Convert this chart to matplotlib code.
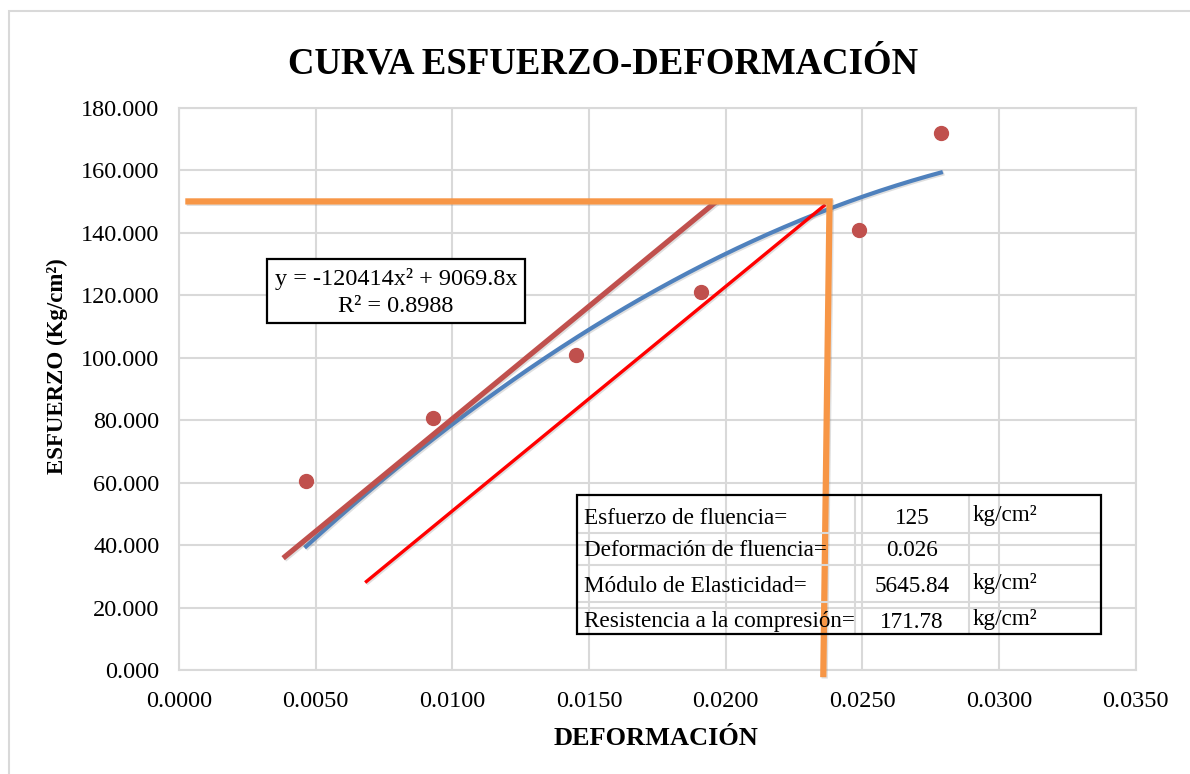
import numpy as np
import matplotlib.pyplot as plt
import matplotlib.patheffects as pe
from matplotlib.patches import Rectangle
from matplotlib.ticker import FormatStrFormatter, MultipleLocator

# datos del ensayo
deformacion = [0.00465, 0.0093, 0.01452, 0.0191, 0.02488, 0.02787]
esfuerzo = [60.4, 80.6, 100.7, 120.9, 141.0, 171.78]

# linea de tendencia (coeficientes)
coef_a, coef_b = -120414, 9069.8
ecuacion = "y = -120414x\u00b2 + 9069.8x"
r2_texto = "R\u00b2 = 0.8988"

# rectas auxiliares
recta_elastica_x = [0.00381, 0.01966]
recta_elastica_y = [35.8, 150.0]
recta_offset_x = [0.00681, 0.02365]
recta_offset_y = [28.0, 149.0]
fluencia_x = [0.00023, 0.0238, 0.02357]
fluencia_y = [150.0, 150.0, -2.3]

# tabla de resultados
tabla_etiquetas = ["Esfuerzo de fluencia=", "Deformación de fluencia=",
                   "Módulo de Elasticidad=", "Resistencia a la compresión="]
tabla_valores = ["125", "0.026", "5645.84", "171.78"]
tabla_unidades = ["kg/cm\u00b2", "", "kg/cm\u00b2", "kg/cm\u00b2"]

W, H = 1190, 774
serif = "Liberation Serif"
gris = "#d9d9d9"

def px(x, y):
    return x / W, 1 - y / H

fig = plt.figure(figsize=(W / 100, H / 100), dpi=100)
ax = fig.add_axes([179 / W, 1 - 670 / H, (1135.7 - 179) / W, (670 - 107.7) / H])

sombra = [pe.SimpleLineShadow(offset=(1, -1), shadow_color="gray", alpha=0.25), pe.Normal()]

# curva de tendencia
xt = np.linspace(min(deformacion), max(deformacion), 200)
yt = coef_a * xt**2 + coef_b * xt
ax.plot(xt, yt, color="#4F81BD", lw=3, zorder=3, path_effects=sombra)

ax.plot(recta_elastica_x, recta_elastica_y, color="#C0504D", lw=3.8, zorder=4,
        solid_capstyle="butt", path_effects=sombra)
ax.plot(recta_offset_x, recta_offset_y, color="#FF0000", lw=2.4, zorder=4,
        solid_capstyle="butt", path_effects=sombra)

ax.plot(deformacion, esfuerzo, "o", color="#C0504D", ms=10, zorder=5)

ax.plot(fluencia_x, fluencia_y, color="#F79646", lw=4.5, zorder=6, clip_on=False,
        solid_capstyle="butt", solid_joinstyle="miter", path_effects=sombra)

ax.set_xlim(0, 0.035)
ax.set_ylim(0, 180)
ax.xaxis.set_major_locator(MultipleLocator(0.005))
ax.yaxis.set_major_locator(MultipleLocator(20))
ax.xaxis.set_major_formatter(FormatStrFormatter("%.4f"))
ax.yaxis.set_major_formatter(FormatStrFormatter("%.3f"))
ax.grid(True, color=gris, lw=1.5)
ax.set_axisbelow(True)
for s in ax.spines.values():
    s.set_color(gris)
    s.set_linewidth(1.5)
ax.tick_params(length=0, labelsize=17.5)
ax.tick_params(axis="y", pad=14)
ax.tick_params(axis="x", pad=15)
for lab in ax.get_xticklabels() + ax.get_yticklabels():
    lab.set_family(serif)

# titulo y ejes
fig.text(*px(603, 73), "CURVA ESFUERZO-DEFORMACIÓN", ha="center", va="baseline",
         fontsize=26.5, fontweight="bold", family=serif)
fig.text(*px(656, 745), "DEFORMACIÓN", ha="center", va="baseline",
         fontsize=19, fontweight="bold", family=serif)
fig.text(*px(57, 366), "ESFUERZO (Kg/cm\u00b2)", ha="center", va="center", rotation=90,
         fontsize=16.5, fontweight="bold", family=serif)

# recuadro de la ecuacion
x0, y0 = px(266.7, 323)
x1, y1 = px(525, 259)
fig.add_artist(Rectangle((x0, y0), x1 - x0, y1 - y0, transform=fig.transFigure,
                         facecolor="white", edgecolor="black", lw=1.6, zorder=7))
fig.text(*px(396, 279), ecuacion, ha="center", va="center", fontsize=17.5, family=serif, zorder=8)
fig.text(*px(396, 307), r2_texto, ha="center", va="center", fontsize=17.5, family=serif, zorder=8)

# tabla
cols = [577, 855, 969, 1101]
filas = [495, 533, 565, 602, 634]
for yy in filas[1:-1]:
    fig.add_artist(plt.Line2D([px(cols[0], 0)[0], px(cols[-1], 0)[0]], [px(0, yy)[1]] * 2,
                              transform=fig.transFigure, color=gris, lw=1.5, zorder=2))
for xx in cols[1:-1]:
    fig.add_artist(plt.Line2D([px(xx, 0)[0]] * 2, [px(0, filas[0])[1], px(0, filas[-1])[1]],
                              transform=fig.transFigure, color=gris, lw=1.5, zorder=2))
tx0, ty0 = px(cols[0], filas[-1])
tx1, ty1 = px(cols[-1], filas[0])
fig.add_artist(Rectangle((tx0, ty0), tx1 - tx0, ty1 - ty0, transform=fig.transFigure,
                         facecolor="none", edgecolor="black", lw=1.6, zorder=3))
filas_y = [518, 550, 586, 622]
for et, va_, un, yy in zip(tabla_etiquetas, tabla_valores, tabla_unidades, filas_y):
    fig.text(*px(584, yy), et, ha="left", va="center", fontsize=16.7, family=serif, zorder=4)
    fig.text(*px(912, yy), va_, ha="center", va="center", fontsize=16.7, family=serif, zorder=4)
    fig.text(*px(973, yy - 3), un, ha="left", va="center", fontsize=16.7, family=serif, zorder=4)

# borde del grafico
fig.add_artist(Rectangle(px(9, 790), 1.2, (790 - 11) / H, transform=fig.transFigure,
                         facecolor="none", edgecolor=gris, lw=1.5, clip_on=False))

fig.savefig("out.png", dpi=100)
